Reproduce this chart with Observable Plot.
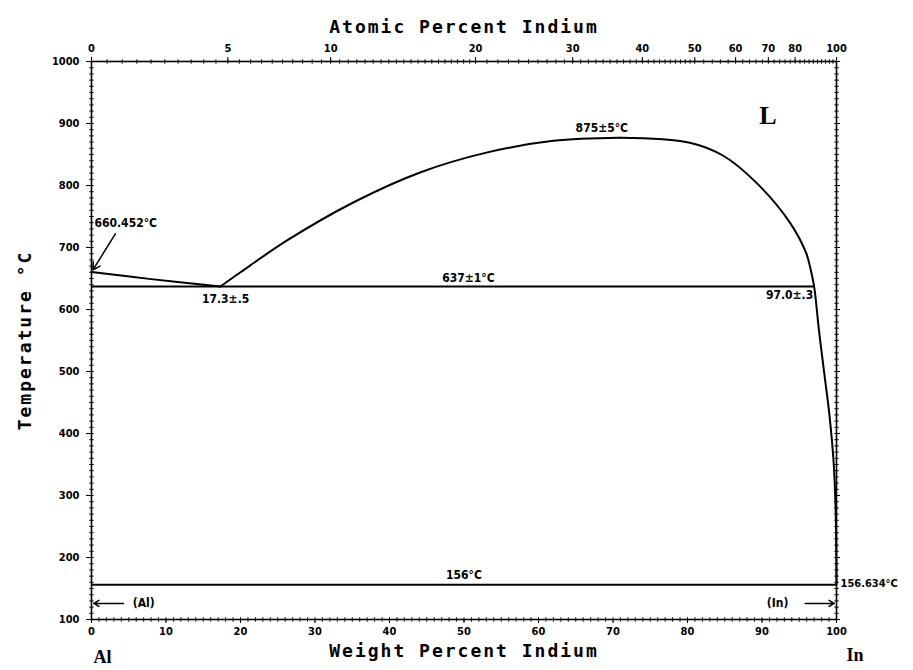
<!DOCTYPE html>
<html><head><meta charset="utf-8">
<script src="https://cdn.jsdelivr.net/npm/d3@7"></script>
<script src="https://cdn.jsdelivr.net/npm/@observablehq/plot@0.6"></script>
<style>body{margin:0;background:#fff} svg{display:block}</style>
</head><body><div id="chart"></div>
<script>
// ---- data ----
const weightTicks = [0, 10, 20, 30, 40, 50, 60, 70, 80, 90, 100];
const tempTicks = [100, 200, 300, 400, 500, 600, 700, 800, 900, 1000];
const atomicTicks = [0, 5, 10, 20, 30, 40, 50, 60, 70, 80, 100];
const alLiquidusWt = [0, 8, 17.3];
const alLiquidusT = [660.452, 649, 637];
const domeWt = [17.3, 20, 26.2, 35.2, 44.1, 53, 62, 70.9, 80.3, 84.8, 89.2, 93.7, 95.9, 96.5, 97.0];
const domeT  = [637, 660, 711, 773, 821, 853, 872, 877, 869, 848, 805, 741, 692, 666, 637];
const inLiquidusWt = [97.65, 98.39, 99.06, 99.6, 99.89, 100];
const inLiquidusT  = [566, 494, 429, 356, 275, 156.634];
const monotecticT = 637, monotecticEnd = 97.0;
const eutecticT = 156;

// atomic % -> weight % (In 114.82, Al 26.98)
const atToWt = a => 100 * a * 114.82 / (a * 114.82 + (100 - a) * 26.98);
const atMap = new Map(atomicTicks.map(a => [atToWt(a), String(a)]));
const minorWt = d3.range(0, 100.01, 1);
const minorT = d3.range(100, 1000.01, 10);
const minorAt = [...d3.range(0, 20, 0.5), ...d3.range(20, 50, 1), ...d3.range(50, 100.01, 2)];

const vtick = {draw(ctx, size) { const r = Math.sqrt(size / Math.PI); ctx.moveTo(0, -r); ctx.lineTo(0, r); }};
const htick = {draw(ctx, size) { const r = Math.sqrt(size / Math.PI); ctx.moveTo(-r, 0); ctx.lineTo(r, 0); }};

const tickFont = "DejaVu Sans Condensed, DejaVu Sans, sans-serif";
const titleFont = "DejaVu Sans Mono, monospace";
const titles = ["Atomic Percent Indium", "Weight Percent Indium", "Temperature °C"];

// the high-In boundary: dome continues below the monotectic into the In liquidus
const upperWt = [...domeWt.slice(7), ...inLiquidusWt];
const upperT = [...domeT.slice(7), ...inLiquidusT];

const chart = Plot.plot({
  width: 913, height: 670,
  marginTop: 61, marginBottom: 51, marginLeft: 91, marginRight: 77,
  style: {fontFamily: tickFont, background: "white", color: "black"},
  x: {domain: [0, 100], label: null},
  y: {domain: [100, 1000], label: null},
  marks: [
    Plot.frame({stroke: "black", strokeWidth: 1.6}),
    // axes
    Plot.axisX(weightTicks, {anchor: "bottom", tickSize: 4, tickPadding: 4, fontSize: 11, fontWeight: "bold", label: null, tickFormat: d => String(d)}),
    Plot.axisX(atomicTicks.map(atToWt), {anchor: "top", tickSize: 5, tickPadding: 5, fontSize: 11, fontWeight: "bold", label: null, tickFormat: d => atMap.get(d)}),
    Plot.axisY(tempTicks, {anchor: "left", tickSize: 5, tickPadding: 7, fontSize: 11, fontWeight: "bold", label: null, tickFormat: d => String(d)}),
    Plot.axisY(tempTicks, {anchor: "right", tickSize: 3, label: null, tickFormat: () => ""}),
    // minor ticks
    Plot.dot(minorWt, {x: d => d, y: () => 100, symbol: vtick, r: 2.2, fill: "none", stroke: "black", strokeWidth: 1}),
    Plot.dot(minorAt, {x: atToWt, y: () => 1000, symbol: vtick, r: 2.2, fill: "none", stroke: "black", strokeWidth: 1}),
    Plot.dot(minorT, {x: () => 0, y: d => d, symbol: htick, r: 2.2, fill: "none", stroke: "black", strokeWidth: 1}),
    Plot.dot(minorT, {x: () => 100, y: d => d, symbol: htick, r: 2.2, fill: "none", stroke: "black", strokeWidth: 1}),
    // phase boundaries
    Plot.line(alLiquidusWt, {x: d => d, y: (d, i) => alLiquidusT[i], strokeWidth: 2, curve: "catmull-rom"}),
    Plot.line(domeWt.slice(0, 8), {x: d => d, y: (d, i) => domeT[i], strokeWidth: 2, curve: "catmull-rom"}),
    Plot.line(upperWt, {x: d => d, y: (d, i) => upperT[i], strokeWidth: 2, curve: "catmull-rom"}),
    Plot.ruleY([monotecticT], {x1: () => 0, x2: () => monotecticEnd, strokeWidth: 2}),
    Plot.ruleY([eutecticT], {strokeWidth: 2}),
    // arrows
    Plot.arrow([0], {x1: () => 3.2, y1: () => 722, x2: () => 0.2, y2: () => 664, strokeWidth: 1.5, headLength: 8}),
    Plot.arrow([0], {x1: () => 4.3, y1: () => 126, x2: () => 0.3, y2: () => 126, strokeWidth: 1.5, headLength: 6}),
    Plot.arrow([0], {x1: () => 95.8, y1: () => 126, x2: () => 99.7, y2: () => 126, strokeWidth: 1.5, headLength: 6}),
    // annotations
    Plot.text(["660.452°C"], {x: () => 0.4, y: () => 740, textAnchor: "start", fontSize: 12, fontWeight: "bold"}),
    Plot.text(["17.3±.5"], {x: () => 18, y: () => 617, fontSize: 12, fontWeight: "bold"}),
    Plot.text(["637±1°C"], {x: () => 50.6, y: () => 651, fontSize: 12, fontWeight: "bold"}),
    Plot.text(["875±5°C"], {x: () => 68.5, y: () => 892, fontSize: 12, fontWeight: "bold"}),
    Plot.text(["97.0±.3"], {x: () => 93.7, y: () => 623, fontSize: 12, fontWeight: "bold"}),
    Plot.text(["156°C"], {x: () => 50, y: () => 171, fontSize: 12, fontWeight: "bold"}),
    Plot.text(["156.634°C"], {x: () => 100, y: () => 158, dx: 4, textAnchor: "start", fontSize: 11, fontWeight: "bold"}),
    Plot.text(["(Al)"], {x: () => 7.0, y: () => 126, fontSize: 12, fontWeight: "bold"}),
    Plot.text(["(In)"], {x: () => 92.1, y: () => 126, fontSize: 12, fontWeight: "bold"}),
    Plot.text(["L"], {x: () => 90.8, y: () => 912, fontSize: 26, fontWeight: "bold", fontFamily: "Liberation Serif, serif"}),
    // titles
    Plot.text([titles[0]], {frameAnchor: "top", dy: -41, fontSize: 18, fontWeight: "bold", fontFamily: titleFont}),
    Plot.text([titles[1]], {frameAnchor: "bottom", dy: 37, fontSize: 18, fontWeight: "bold", fontFamily: titleFont}),
    Plot.text(["Al"], {frameAnchor: "bottom-left", textAnchor: "start", dx: 2, dy: 43, fontSize: 18, fontFamily: "Liberation Serif, serif", fontWeight: "bold"}),
    Plot.text(["In"], {frameAnchor: "bottom-right", textAnchor: "end", dx: 27, dy: 41, fontSize: 18, fontFamily: "Liberation Serif, serif", fontWeight: "bold"}),
    Plot.text([titles[2]], {frameAnchor: "left", textAnchor: "middle", dx: -66, rotate: -90, fontSize: 18, fontWeight: "bold", fontFamily: titleFont})
  ]
});
d3.select(chart).selectAll("text").filter(function() { return titles.includes(this.textContent); })
  .attr("letter-spacing", "2px");
document.getElementById("chart").appendChild(chart);
</script>
</body></html>
